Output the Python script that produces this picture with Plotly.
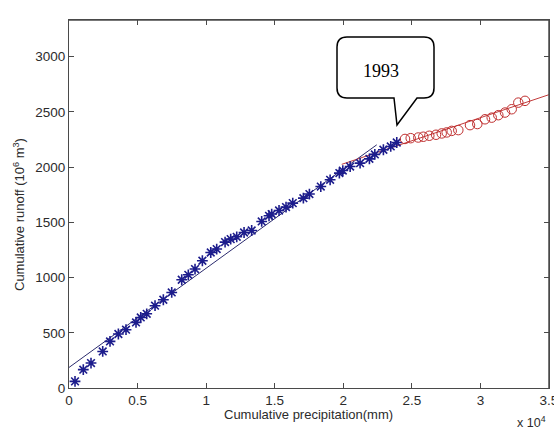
import plotly.graph_objects as go

# ---- data ----
star_x = [438, 1043, 1605, 2458, 2990, 3600, 4157, 4887, 5230, 5667, 6273, 6880, 7490,
          8220, 8700, 9190, 9725, 10335, 10770, 11380, 11790, 12230, 12765, 13320, 14050,
          14585, 14780, 15315, 15825, 16315, 17090, 17530, 18360, 19040, 19715, 19965,
          20500, 21225, 21905, 22300, 22925, 23460, 23900]
star_y = [60, 166, 226, 331, 422, 489, 528, 594, 639, 672, 745, 799, 865,
          980, 1025, 1077, 1152, 1227, 1258, 1321, 1348, 1369, 1408, 1426, 1508,
          1559, 1575, 1607, 1638, 1674, 1719, 1756, 1824, 1885, 1946, 1969,
          2005, 2036, 2075, 2115, 2157, 2187, 2223]

circ_x = [24500, 24915, 25470, 25835, 26272, 26761, 27176, 27541, 27905, 28387,
          29240, 29772, 30333, 30822, 31303, 31792, 32280, 32762, 33250]
circ_y = [2255, 2262, 2268, 2275, 2284, 2293, 2305, 2314, 2328, 2335,
          2380, 2390, 2433, 2448, 2470, 2494, 2524, 2584, 2600]

fit1_x = [0, 22440]
fit1_y = [186, 2202]
fit2_x = [19885, 35000]
fit2_y = [2025, 2656]

x_tickvals = [0, 5000, 10000, 15000, 20000, 25000, 30000, 35000]
x_ticktext = ["0", "0.5", "1", "1.5", "2", "2.5", "3", "3.5"]
y_tickvals = [0, 500, 1000, 1500, 2000, 2500, 3000]
callout_text = "1993"

# ---- layout geometry (pixels) ----
W, H = 554, 430
L, R, T, B = 69, 549, 20, 388


def px(xp, yp):
    return (xp - L) / (R - L), (B - yp) / (B - T)


FONT = "Liberation Sans, Arial, sans-serif"
TXT = "#2b2b2b"
AX = "#4a4a4a"
STAR = "#1c1c8c"
RED = "#c03030"

fig = go.Figure()
fig.add_trace(go.Scatter(x=fit1_x, y=fit1_y, mode="lines",
                         line=dict(color="#2b2b6e", width=1), hoverinfo="skip"))
fig.add_trace(go.Scatter(x=fit2_x, y=fit2_y, mode="lines",
                         line=dict(color="#c23b3b", width=1), hoverinfo="skip"))
fig.add_trace(go.Scatter(x=star_x, y=star_y, mode="markers",
                         marker=dict(symbol="asterisk-open", size=9, color=STAR,
                                     line=dict(color=STAR, width=1.6))))
fig.add_trace(go.Scatter(x=circ_x, y=circ_y, mode="markers",
                         marker=dict(symbol="circle-open", size=9.5, color=RED,
                                     line=dict(color=RED, width=1))))

# frame around the plotting area (explicit right and top edges)
fig.add_shape(type="line", xref="paper", yref="paper", x0=1, x1=1, y0=0, y1=1,
              line=dict(color=AX, width=1.5), layer="above")
fig.add_shape(type="line", xref="paper", yref="paper", x0=0, x1=1, y0=1, y1=1,
              line=dict(color=AX, width=1.3), layer="above")

# callout bubble
rx, ry = 10 / (R - L), 10 / (B - T)
x0, y0 = px(337, 37)
x1, y1 = px(434, 98)
ta, _ = px(417, 98)
tb, _ = px(394, 98)
tx, ty = px(397, 125)
path = (f"M {x0+rx},{y0} L {x1-rx},{y0} Q {x1},{y0} {x1},{y0-ry} "
        f"L {x1},{y1+ry} Q {x1},{y1} {x1-rx},{y1} L {ta},{y1} L {tx},{ty} L {tb},{y1} "
        f"L {x0+rx},{y1} Q {x0},{y1} {x0},{y1+ry} L {x0},{y0-ry} Q {x0},{y0} {x0+rx},{y0} Z")
fig.add_shape(type="path", xref="paper", yref="paper", path=path,
              line=dict(color="black", width=1.5), fillcolor="white", layer="above")
cx, cy = px(381, 71)
fig.add_annotation(xref="paper", yref="paper", x=cx, y=cy, text=callout_text,
                   showarrow=False, font=dict(family="Liberation Serif, Times New Roman, serif",
                                              size=18, color="black"),
                   xanchor="center", yanchor="middle")

# axis titles and exponent
ax_, ay_ = px(308, 414)
fig.add_annotation(xref="paper", yref="paper", x=ax_, y=ay_,
                   text="Cumulative precipitation(mm)", showarrow=False,
                   font=dict(family=FONT, size=13, color=TXT),
                   xanchor="center", yanchor="middle")
bx_, by_ = px(19, 215)
fig.add_annotation(xref="paper", yref="paper", x=bx_, y=by_,
                   text="Cumulative runoff (10<sup>6</sup> m<sup>3</sup>)", showarrow=False,
                   font=dict(family=FONT, size=13, color=TXT), textangle=-90,
                   xanchor="center", yanchor="middle")
ex_, ey_ = px(531, 422)
fig.add_annotation(xref="paper", yref="paper", x=ex_, y=ey_,
                   text="x 10<sup>4</sup>", showarrow=False,
                   font=dict(family=FONT, size=12.5, color=TXT),
                   xanchor="center", yanchor="middle")

fig.update_layout(
    width=W, height=H,
    margin=dict(l=L, r=W - R, t=T, b=H - B, autoexpand=False),
    paper_bgcolor="white", plot_bgcolor="white",
    showlegend=False,
    font=dict(family=FONT, size=13.5, color=TXT),
    xaxis=dict(range=[0, 35000], tickvals=x_tickvals, ticktext=x_ticktext,
               showgrid=False, zeroline=False, showline=True, linecolor=AX, linewidth=1.2,
               mirror="ticks", ticks="inside", ticklen=5, tickcolor=AX, tickwidth=1.2,
               ticklabeloverflow="allow",
               tickfont=dict(family=FONT, size=13.5, color=TXT)),
    yaxis=dict(range=[0, 3332], tickvals=y_tickvals,
               showgrid=False, zeroline=False, showline=True, linecolor=AX, linewidth=1.2,
               mirror="ticks", ticks="inside", ticklen=5, tickcolor=AX, tickwidth=1.2,
               ticklabeloverflow="allow",
               tickfont=dict(family=FONT, size=13.5, color=TXT)),
)

fig.write_html("out.html", config={"displayModeBar": False})
with open("out.html", "r", encoding="utf-8") as f:
    html = f.read()
html = html.replace("<head>", "<head><style>html,body{margin:0;padding:0;overflow:hidden;}</style>", 1)
with open("out.html", "w", encoding="utf-8") as f:
    f.write(html)
